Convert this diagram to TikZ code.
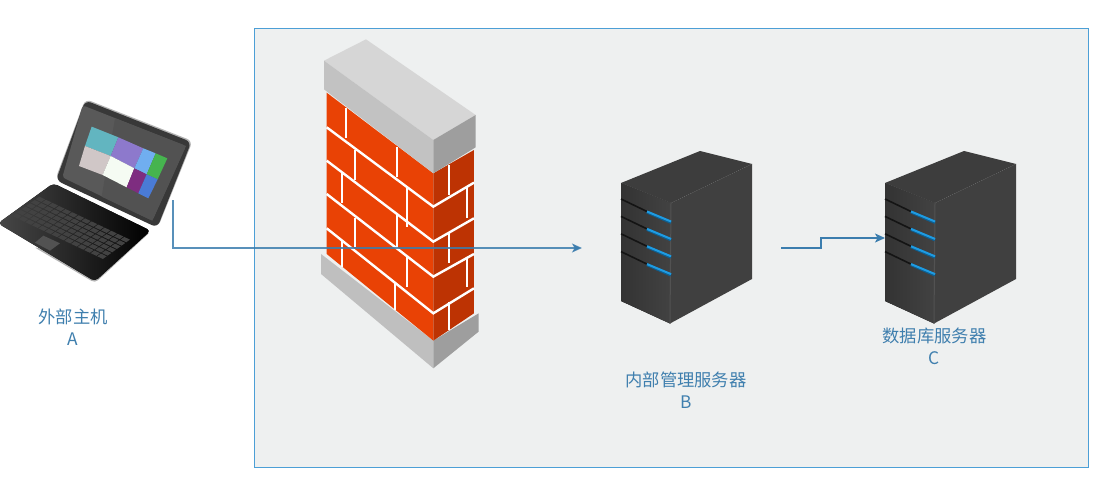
\documentclass[tikz,border=0pt]{standalone}
\usepackage{fontspec}
\setmainfont{Noto Sans CJK SC}
\usetikzlibrary{arrows.meta}
\definecolor{zonefill}{HTML}{EEF0F0}
\definecolor{zoneline}{HTML}{4C9FD6}
\definecolor{linkline}{HTML}{3B7DAE}
\definecolor{labeltext}{HTML}{3F7FAE}
\definecolor{brick}{HTML}{E94205}
\definecolor{brickdark}{HTML}{BD3303}
\definecolor{slotblue}{HTML}{1E9BE2}
\definecolor{slotdeep}{HTML}{0F5F8F}
\definecolor{tileteal}{HTML}{62B5C0}
\definecolor{tilepurple}{HTML}{8D79CC}
\definecolor{tilesky}{HTML}{70AEF0}
\definecolor{tilegreen}{HTML}{46B44F}
\definecolor{tilerose}{HTML}{D0C7C7}
\definecolor{tilewhite}{HTML}{F5FBF3}
\definecolor{tileplum}{HTML}{7E2D80}
\definecolor{tileblue}{HTML}{4A7BD6}
\tikzset{
	labeltxt/.style={text=labeltext,font=\fontsize{17.3}{22}\selectfont,align=center,inner sep=0pt},
	holder/.style={inner sep=0pt,outer sep=0pt},
	link/.style={draw=linkline,line width=1.3pt,-{Stealth[length=10pt,width=9pt,inset=2.5pt]}},
	mortar/.style={draw=white,line width=2.4pt},
	joint/.style={draw=white,line width=2pt},
	pics/server/.style={code={
		\fill[left color=black!80,right color=black!74] (0,0) -- (50,20) -- (49,140.5) -- (0,118) -- cycle;
		\fill[black!75] (50,20) -- (131,-19) -- (131,96) -- (49,140.5) -- cycle;
		\fill[black!76] (0,0) -- (79,-32) -- (131,-19) -- (50,20) -- cycle;
		\draw[black!68,line width=1pt] (50,20) -- (49,140.5);
		\foreach \row in {0,17.4,34.8,52.6} {
			\draw[black!92,line width=1.6pt] (0,16+\row) -- (26,28.5+\row);
			\draw[draw=slotdeep,line width=3pt] (26,29+\row) -- (50,39.5+\row);
			\draw[draw=slotblue,line width=2pt] (26,28.5+\row) -- (50,38.5+\row);
		}
	}}
}
\begin{document}
\begin{tikzpicture}[x=1pt,y=-1pt]
	\useasboundingbox (0,0) rectangle (1095,492);
	\fill[white] (0,0) rectangle (1095,492);
	\node[holder,draw=zoneline,fill=zonefill,line width=0.8pt,minimum width=834pt,minimum height=439pt] (zone) at (671,247.5) {};

	% laptop
	\begin{scope}[shift={(0,90)},x=0.3333pt,y=-0.3333pt]
		\fill[black!30,rounded corners=4pt] (270,520) -- (452,425) -- (285,579) -- (100,470) -- cycle;
		\fill[left color=black!72,right color=black,rounded corners=4pt] (160,280) -- (452,422) -- (285,574) -- (-6,400) -- cycle;
		\foreach \i in {0,...,13}
			\foreach \j in {0,...,5} {
				\pgfmathsetmacro{\keyx}{118+\i*19.6-\j*14}
				\pgfmathsetmacro{\keyy}{320+\i*9.3+\j*10}
				\fill[black!74] (\keyx,\keyy) -- ++(17,8) -- ++(-11,8) -- ++(-17,-8) -- cycle;
			}
		\fill[black!68] (130,437) -- (180,460) -- (150,482) -- (105,458) -- cycle;
		\fill[black!30,rounded corners=6pt] (256,27) -- (578,153) -- (474,412) -- (166,268) -- cycle;
		\fill[black!78,rounded corners=6pt] (256,31) -- (574,156) -- (472,413) -- (168,271) -- cycle;
		\fill[black!65,rounded corners=3pt] (248,46) -- (558,168) -- (457,392) -- (187,262) -- cycle;
		\fill[black!68] (345,85) -- (558,168) -- (457,392) -- (305,320) -- cycle;
		\fill[tileteal] (275,110) -- (355,142) -- (332,198) -- (255,168) -- cycle;
		\fill[tilepurple] (355,142) -- (430,175) -- (403,235) -- (332,198) -- cycle;
		\fill[tilesky] (430,175) -- (467,190) -- (440,253) -- (403,235) -- cycle;
		\fill[tilegreen] (467,190) -- (502,205) -- (473,268) -- (440,253) -- cycle;
		\fill[tilerose] (255,168) -- (332,198) -- (308,255) -- (237,228) -- cycle;
		\fill[tilewhite] (332,198) -- (403,235) -- (380,292) -- (308,255) -- cycle;
		\fill[tileplum] (403,235) -- (440,253) -- (415,310) -- (380,292) -- cycle;
		\fill[tileblue] (440,253) -- (473,268) -- (445,325) -- (415,310) -- cycle;
	\end{scope}
	\node[holder,minimum width=173pt,minimum height=200pt] (laptop) at (86.5,200) {};
	\node[labeltxt] (hostlabel) at (73,327.5) {外部主机\\A};

	% firewall
	\begin{scope}[shift={(310,30)},x=0.3333pt,y=-0.3333pt]
		\fill[black!25] (33,672) -- (370,932) -- (370,1015) -- (33,732) -- cycle;
		\fill[black!38] (370,932) -- (506,850) -- (506,905) -- (370,1015) -- cycle;
		\fill[brick] (50,188) -- (370,430) -- (370,932) -- (50,672) -- cycle;
		\fill[brickdark] (370,430) -- (492,360) -- (492,850) -- (370,932) -- cycle;
		\foreach \ya/\yb/\yc in {292/530/458,392/635/565,492/740/672,595/850/775}
			\draw[mortar] (50,\ya) -- (370,\yb) -- (492,\yc);
		\foreach \jx/\ja/\jb in {107/235/325,260/350/440,135/360/450,290/475/590,95/430/520,260/555/650,135/565/650,290/680/770,95/630/710,255/760/840,417/405/495,472/470/565,417/610/700,472/680/770,417/815/900}
			\draw[joint] (\jx,\ja) -- (\jx,\jb);
		\fill[black!16] (42,92) -- (168,28) -- (497,255) -- (370,330) -- cycle;
		\fill[black!24] (42,92) -- (370,330) -- (370,430) -- (42,178) -- cycle;
		\fill[black!38] (370,330) -- (497,255) -- (497,352) -- (370,430) -- cycle;
	\end{scope}

	% servers
	\pic at (621,183) {server};
	\pic at (885,183) {server};
	\node[holder,minimum width=199pt,minimum height=180pt] (serverb) at (681.5,248) {};
	\node[holder,minimum width=131pt,minimum height=180pt] (serverc) at (950.5,238) {};
	\node[labeltxt] (blabel) at (686,390) {内部管理服务器\\B};
	\node[labeltxt] (clabel) at (934.5,346.5) {数据库服务器\\C};

	\draw[link,draw opacity=0.85] (laptop.east) |- (serverb.west);
	\draw[link] (serverb.east) -- ++(40,0) |- (serverc.west);
\end{tikzpicture}
\end{document}
